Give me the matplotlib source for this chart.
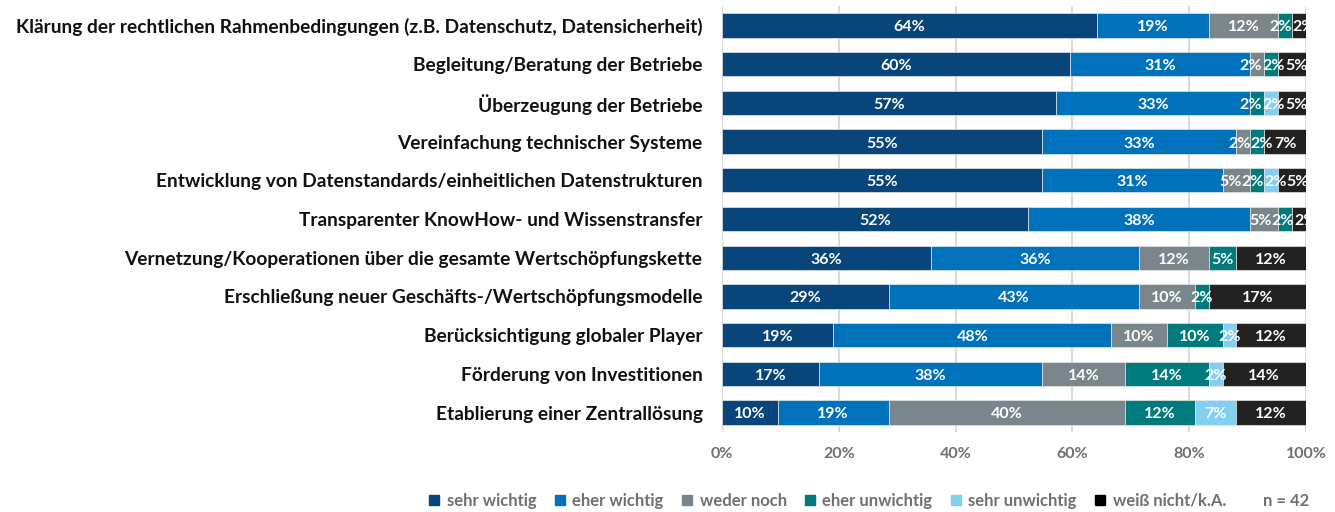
import numpy as np
import matplotlib.pyplot as plt
from matplotlib.patches import Patch

plt.rcParams['font.family'] = ['Lato', 'DejaVu Sans']

# Categories (top to bottom) and answer counts per level, n = 42
categories = [
    'Klärung der rechtlichen Rahmenbedingungen (z.B. Datenschutz, Datensicherheit)',
    'Begleitung/Beratung der Betriebe',
    'Überzeugung der Betriebe',
    'Vereinfachung technischer Systeme',
    'Entwicklung von Datenstandards/einheitlichen Datenstrukturen',
    'Transparenter KnowHow- und Wissenstransfer',
    'Vernetzung/Kooperationen über die gesamte Wertschöpfungskette',
    'Erschließung neuer Geschäfts-/Wertschöpfungsmodelle',
    'Berücksichtigung globaler Player',
    'Förderung von Investitionen',
    'Etablierung einer Zentrallösung',
]
levels = ['sehr wichtig', 'eher wichtig', 'weder noch', 'eher unwichtig',
          'sehr unwichtig', 'weiß nicht/k.A.']
sehr_wichtig = [27, 25, 24, 23, 23, 22, 15, 12, 8, 7, 4]
eher_wichtig = [8, 13, 14, 14, 13, 16, 15, 18, 20, 16, 8]
weder_noch = [5, 1, 0, 1, 2, 2, 5, 4, 4, 6, 17]
eher_unwichtig = [1, 1, 1, 1, 1, 1, 2, 1, 4, 6, 5]
sehr_unwichtig = [0, 0, 1, 0, 1, 0, 0, 0, 1, 1, 3]
weiss_nicht = [1, 2, 2, 3, 2, 1, 5, 7, 5, 6, 5]
n = 42

colors = ['#07457a', '#0072bc', '#7a868c', '#007a7b', '#82cff2', '#222222']
legend_colors = ['#07457a', '#0072bc', '#7a868c', '#007a7b', '#82cff2', '#000000']

counts = np.array([sehr_wichtig, eher_wichtig, weder_noch,
                   eher_unwichtig, sehr_unwichtig, weiss_nicht])
pct = counts / n * 100

fig = plt.figure(figsize=(13.35, 5.12), dpi=100)
ax = fig.add_axes([0.5408, 0.1565, 0.4375, 0.8315])

y = np.arange(len(categories))
left = np.zeros(len(categories))
texts_by_row = [[] for _ in categories]
for k in range(len(levels)):
    ax.barh(y, pct[k], left=left, height=0.63, color=colors[k],
            edgecolor='#e6e6e6', linewidth=0.5, zorder=2)
    for i in range(len(categories)):
        if counts[k, i] > 0:
            t = ax.text(left[i] + pct[k, i] / 2, i + 0.05, f'{pct[k, i]:.0f}%',
                        ha='center', va='center', color='white', fontsize=11.5,
                        fontweight='bold', zorder=3, clip_on=True)
            texts_by_row[i].append(t)
    left += pct[k]

ax.set_xlim(0, 100)
ax.set_ylim(len(categories) - 0.5, -0.5)
ax.set_xticks(np.arange(0, 101, 20))
ax.set_xticklabels([f'{v}%' for v in range(0, 101, 20)])
ax.set_yticks(y)
ax.set_yticklabels(categories, fontsize=13.8, fontweight='bold', color='#111111')
ax.tick_params(axis='y', length=0, pad=14)
ax.tick_params(axis='x', length=0, pad=11, labelsize=11.5, labelcolor='#707070')
for lab in ax.get_xticklabels():
    lab.set_fontweight('bold')
ax.grid(axis='x', color='#d9d9d9', linewidth=1.4, zorder=0)
ax.set_axisbelow(True)
for s in ax.spines.values():
    s.set_visible(False)

# push overlapping segment labels apart, like the original tool does
fig.canvas.draw()
renderer = fig.canvas.get_renderer()
inv = ax.transData.inverted()
for row in texts_by_row:
    xs = [t.get_position()[0] for t in row]
    widths = []
    for t in row:
        bb = t.get_window_extent(renderer)
        widths.append(inv.transform((bb.x1, 0))[0] - inv.transform((bb.x0, 0))[0])
    for _ in range(200):
        for j in range(len(xs) - 1):
            overlap = (xs[j] + widths[j] / 2) - (xs[j + 1] - widths[j + 1] / 2)
            if overlap > 0:
                xs[j] -= overlap / 2
                xs[j + 1] += overlap / 2
    for t, xv in zip(row, xs):
        t.set_x(xv)

handles = [Patch(color=c) for c in legend_colors]
leg = fig.legend(handles, levels, ncol=6, loc='center', bbox_to_anchor=(0.620, 0.022),
                 frameon=False, handlelength=0.6, handleheight=0.6, handletextpad=0.45,
                 columnspacing=1.1, prop={'size': 12, 'weight': 'bold'})
for txt in leg.get_texts():
    txt.set_color('#707070')
fig.text(0.981, 0.022, 'n = 42', ha='right', va='center', fontsize=12,
         fontweight='bold', color='#707070')

fig.savefig('out.png', dpi=100)
